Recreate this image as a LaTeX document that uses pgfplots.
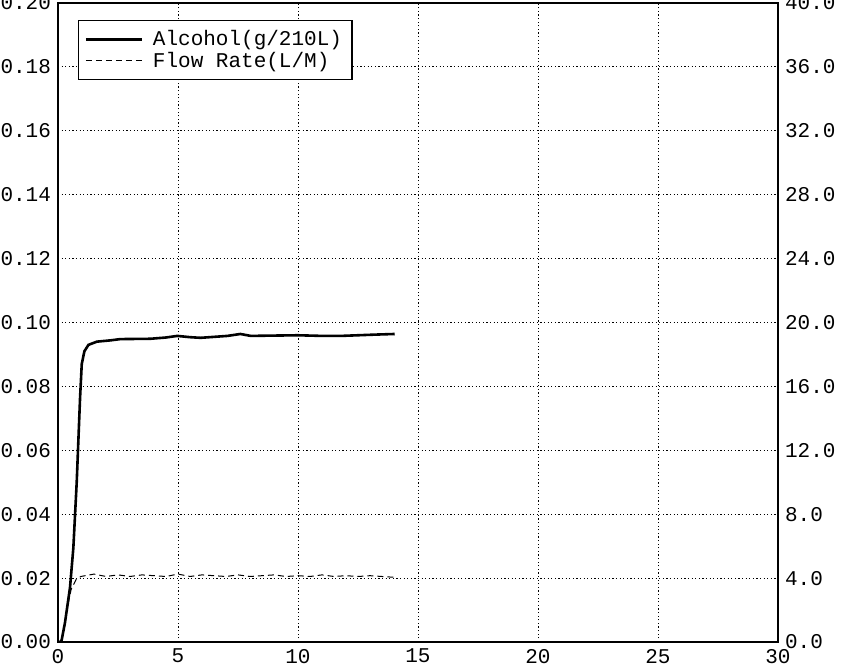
\documentclass[border=0pt]{standalone}
\usepackage{fontspec}
\setmainfont{Liberation Mono}
\usepackage{pgfplots}
\pgfplotsset{compat=1.18}
\usetikzlibrary{calc}

\begin{document}
\begin{tikzpicture}
\pgfplotsset{
  base/.style={
    scale only axis,
    width=360pt, height=319.5pt,
    xmin=0, xmax=30,
    major tick length=0pt,
    axis line style={black, line width=0.7pt},
    tick label style={font=\fontsize{10.5}{12}\selectfont, black},
    /pgf/number format/assume math mode=true,
    scaled ticks=false,
  },
}
% left axis: alcohol
\begin{axis}[base,
    name=main,
    ymin=0, ymax=0.2,
    xtick={0,5,10,15,20,25,30},
    ytick={0,0.02,0.04,0.06,0.08,0.1,0.12,0.14,0.16,0.18,0.2},
    xtick pos=bottom, ytick pos=left,
    yticklabel style={/pgf/number format/.cd, fixed, fixed zerofill, precision=2},
    xticklabel style={yshift=0pt},
    grid=major,
    major grid style={black, line width=0.45pt, dash pattern=on 0.6pt off 1.2pt},
]
\addplot[black, line width=1.3pt] coordinates {
  (0.08,0) (0.15,0.0005) (0.29,0.006) (0.5,0.017) (0.64,0.0295)
  (0.78,0.050) (0.92,0.0765) (0.99,0.087) (1.1,0.091) (1.27,0.093)
  (1.62,0.094) (2.18,0.0944) (2.6,0.0948) (3.85,0.0949) (4.5,0.0953)
  (4.97,0.0958) (5.5,0.0954) (5.94,0.0952) (7.06,0.0958) (7.6,0.0964)
  (8.03,0.0958) (9,0.0959) (9.99,0.0960) (11,0.0958) (11.8,0.0958)
  (13.2,0.0962) (14.03,0.0964)
};
\end{axis}
% right axis: flow rate
\begin{axis}[base,
    ymin=0, ymax=40,
    axis x line=none,
    axis y line*=right,
    ytick={0,4,8,12,16,20,24,28,32,36,40},
    yticklabel style={/pgf/number format/.cd, fixed, fixed zerofill, precision=1},
    legend style={at={(0.028,0.973)}, anchor=north west,
      draw=black, line width=0.6pt, fill=white,
      font=\fontsize{10.5}{12}\selectfont,
      inner xsep=3pt, inner ysep=4pt, row sep=0pt, column sep=3pt,
      nodes={inner ysep=0.8pt},
      cells={anchor=west}},
    legend image code/.code={\draw[#1] (0pt,0pt) -- (28pt,0pt);},
]
\addlegendimage{black, line width=1.1pt}
\addplot[black, line width=0.5pt, dash pattern=on 3pt off 2pt] coordinates {
  (0.42,2.4) (0.55,3.3) (0.75,3.9) (0.95,4.1) (1.5,4.25) (2.0,4.1)
  (2.5,4.2) (3.0,4.1) (3.5,4.2) (4.0,4.15) (4.5,4.1) (5.0,4.25)
  (5.5,4.1) (6.0,4.2) (6.5,4.15) (7.0,4.1) (7.5,4.2) (8.0,4.1)
  (8.5,4.15) (9.0,4.2) (9.5,4.1) (10.0,4.15) (10.5,4.1) (11.0,4.2)
  (11.5,4.1) (12.0,4.15) (12.5,4.1) (13.0,4.15) (13.5,4.1) (14.0,4.05)
};
\legend{Alcohol(g/210L), Flow Rate(L/M)}
\end{axis}
\pgfresetboundingbox
\useasboundingbox ($(main.south west)+(-29pt,-12pt)$) rectangle ($(main.north east)+(35pt,1.5pt)$);
\end{tikzpicture}
\end{document}
